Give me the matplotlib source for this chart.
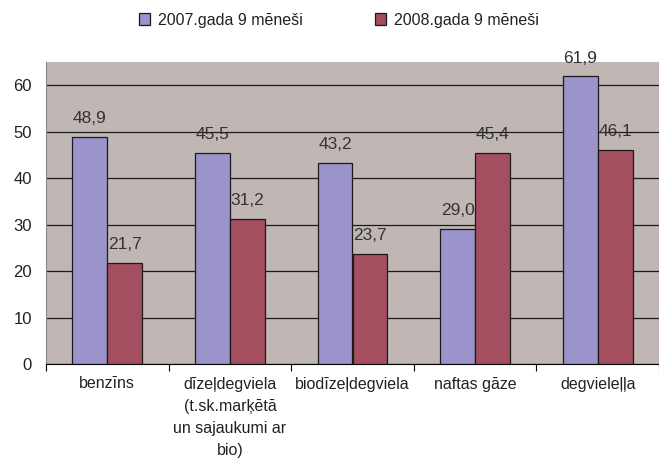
import numpy as np
import matplotlib.pyplot as plt

categories = ["benzīns", "dīzeļdegviela\n(t.sk.marķētā\nun sajaukumi ar\nbio)",
              "biodīzeļdegviela", "naftas gāze", "degvieleļļa"]
series_2007 = [48.9, 45.5, 43.2, 29.0, 61.9]
series_2008 = [21.7, 31.2, 23.7, 45.4, 46.1]
labels = ["2007.gada 9 mēneši", "2008.gada 9 mēneši"]

plt.rcParams['font.family'] = ['Liberation Sans', 'DejaVu Sans']

fig = plt.figure(figsize=(6.59, 4.62), dpi=100)
ax = fig.add_axes([46 / 659, 1 - 364 / 462, 613 / 659, (364 - 62) / 462])
ax.set_facecolor('#c0b7b4')

x = np.arange(len(categories))
w = 0.285
b1 = ax.bar(x - w / 2, series_2007, w, color='#9a94cb', edgecolor='#1a1a1a', linewidth=0.9,
            label=labels[0], zorder=3)
b2 = ax.bar(x + w / 2, series_2008, w, color='#a34f5f', edgecolor='#1a1a1a', linewidth=0.9,
            label=labels[1], zorder=3)

for bars, vals in ((b1, series_2007), (b2, series_2008)):
    for rect, v in zip(bars, vals):
        ax.annotate(f"{v:.1f}".replace('.', ','), (rect.get_x() + rect.get_width() / 2, v),
                    xytext=(0, 10), textcoords='offset points', ha='center', va='baseline',
                    fontsize=12.5, color='#333333')

ax.set_xlim(-0.5, len(categories) - 0.5)
ax.set_ylim(0, 65)
ax.set_yticks(range(0, 61, 10))
ax.yaxis.grid(True, color='#1a1a1a', linewidth=0.9, zorder=1)
ax.tick_params(axis='y', length=0, labelsize=12, pad=10, labelcolor='#222222')
ax.set_xticks(np.arange(-0.5, len(categories), 1), minor=False)
ax.set_xticklabels([])
ax.set_xticks(x, minor=True)
ax.set_xticklabels(categories, minor=True, fontsize=11.5, linespacing=1.6, color='#222222')
ax.tick_params(axis='x', which='major', length=5, color='black')
ax.tick_params(axis='x', which='minor', length=0, pad=9)

for s in ('top', 'right'):
    ax.spines[s].set_visible(False)
ax.spines['left'].set_color('#8c8480')
ax.spines['bottom'].set_color('black')

fig.legend(loc='center', bbox_to_anchor=(339 / 659, 1 - 20 / 462), ncol=2, frameon=False,
           fontsize=11.5, handlelength=0.7, handleheight=0.7, columnspacing=4.5,
           handletextpad=0.5, labelcolor='#222222')

plt.savefig('out.png', dpi=100)
